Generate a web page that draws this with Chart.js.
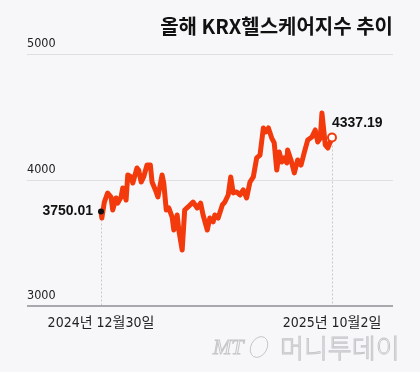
<!DOCTYPE html>
<html>
<head>
<meta charset="utf-8">
<script src="https://cdn.jsdelivr.net/npm/chart.js@4.4.0/dist/chart.umd.min.js"></script>
<style>
  html, body { margin: 0; padding: 0; background: #f7f7f9; }
  canvas { display: block; }
</style>
</head>
<body>
<canvas id="chart" width="420" height="372"></canvas>
<script>
// KRX 헬스케어 지수, x = calendar days since 2024-12-30
const days = [0, 1, 4, 8, 12, 14, 18, 20, 24, 26, 30, 32, 36, 38, 43, 45, 48, 51, 55, 59,
  61, 65, 68, 73, 75, 78, 81, 85, 87, 91, 93, 97, 100, 104, 110, 115, 119, 122, 127, 130,
  134, 136, 140, 145, 148, 152, 155, 158, 162, 166, 170, 174, 178, 182, 186, 190, 194, 197, 200, 204,
  207, 210, 213, 216, 219, 222, 223, 227, 231, 235, 239, 243, 247, 252, 256, 259, 262, 264, 268, 271,
  276];
const values = [3750.01, 3698, 3825, 3897, 3865, 3762, 3857, 3817, 3865, 3937, 3841, 4040, 4024, 3976, 4095, 4079, 3984, 4024, 4119, 4119,
  3984, 3921, 3865, 4040, 3976, 3762, 3778, 3706, 3603, 3722, 3603, 3444, 3762, 3786, 3825, 3778, 3817, 3722, 3603, 3698,
  3667, 3722, 3698, 3802, 3825, 3881, 4024, 3897, 3905, 3881, 3921, 3857, 3984, 4024, 4175, 4198, 4413, 4381, 4413, 4333,
  4294, 4079, 4222, 4143, 4175, 4135, 4238, 4159, 4056, 4159, 4119, 4222, 4317, 4341, 4397, 4302, 4333, 4532, 4278, 4254,
  4337.19];
const yMin = 3000, yMax = 5000, yStep = 1000;
const startLabel = '2024년 12월30일';
const endLabel = '2025년 10월2일';
const titleText = '올해 KRX헬스케어지수 추이';

const lineColor = '#f23a0c';
const narrow = '"Liberation Sans Narrow", "DejaVu Sans Condensed", "Noto Sans CJK KR", sans-serif';
const last = values.length - 1;

const decor = {
  id: 'decor',
  beforeDraw(chart) {
    const ctx = chart.ctx;
    ctx.save();
    ctx.fillStyle = '#f7f7f9';
    ctx.fillRect(0, 0, chart.width, chart.height);
    ctx.restore();
  },
  beforeDatasetsDraw(chart) {
    const ctx = chart.ctx;
    const pts = chart.getDatasetMeta(0).data;
    const bottom = chart.chartArea.bottom;
    ctx.save();
    ctx.strokeStyle = '#c9c9cd';
    ctx.lineWidth = 1;
    ctx.setLineDash([2, 2]);
    [pts[0], pts[last]].forEach(p => {
      const x = Math.round(p.x) + 0.5;
      ctx.beginPath();
      ctx.moveTo(x, p.y);
      ctx.lineTo(x, bottom - 1);
      ctx.stroke();
    });
    ctx.restore();
  },
  afterDatasetsDraw(chart) {
    const ctx = chart.ctx;
    const pts = chart.getDatasetMeta(0).data;
    ctx.save();
    ctx.fillStyle = '#111';
    ctx.font = 'bold 14px "Liberation Sans", Arial, sans-serif';
    ctx.textBaseline = 'middle';
    ctx.textAlign = 'right';
    ctx.fillText(values[0].toFixed(2), pts[0].x - 8, pts[0].y);
    ctx.textAlign = 'left';
    ctx.fillText(values[last].toFixed(2), pts[last].x, pts[last].y - 14);
    ctx.restore();
  },
  afterDraw(chart) {
    const ctx = chart.ctx;
    const pts = chart.getDatasetMeta(0).data;
    const area = chart.chartArea;
    ctx.save();
    // title
    ctx.fillStyle = '#111';
    ctx.font = 'bold 20px "Noto Sans CJK KR", sans-serif';
    ctx.textAlign = 'right';
    ctx.textBaseline = 'middle';
    ctx.fillText(titleText, area.right, 26);
    // x labels
    ctx.font = '14px ' + narrow;
    ctx.fillStyle = '#222';
    ctx.textAlign = 'center';
    ctx.fillText(startLabel, pts[0].x, area.bottom + 17);
    ctx.fillText(endLabel, pts[last].x, area.bottom + 17);
    // watermark
    ctx.strokeStyle = '#c6c6ca';
    ctx.lineWidth = 1;
    ctx.font = 'italic 22px "Liberation Serif", serif';
    ctx.textAlign = 'left';
    ctx.strokeText('MT', 213, 348);
    ctx.beginPath();
    ctx.ellipse(259, 347, 8, 11, 0.5, 0, Math.PI * 2);
    ctx.stroke();
    ctx.font = '300 26px "Noto Sans CJK KR", sans-serif';
    ctx.strokeText('머니투데이', 280, 348);
    ctx.restore();
  }
};

new Chart(document.getElementById('chart'), {
  type: 'line',
  data: {
    datasets: [{
      data: days.map((d, i) => ({ x: d, y: values[i] })),
      borderColor: lineColor,
      borderWidth: 5,
      borderJoinStyle: 'round',
      borderCapStyle: 'round',
      tension: 0,
      pointRadius: ctx => ctx.dataIndex === 0 ? 3 : (ctx.dataIndex === last ? 4 : 0),
      pointBackgroundColor: ctx => ctx.dataIndex === 0 ? '#111' : '#ffffff',
      pointBorderColor: ctx => ctx.dataIndex === 0 ? '#111' : lineColor,
      pointBorderWidth: ctx => ctx.dataIndex === 0 ? 0 : 2,
      clip: false
    }]
  },
  options: {
    responsive: false,
    devicePixelRatio: 1,
    animation: false,
    layout: { padding: { left: 27, right: 27, top: 54, bottom: 66 } },
    plugins: { legend: { display: false }, tooltip: { enabled: false } },
    scales: {
      x: {
        type: 'linear',
        display: false,
        min: -88.4,
        max: 348.9
      },
      y: {
        min: yMin,
        max: yMax,
        border: { display: false },
        ticks: {
          stepSize: yStep,
          mirror: true,
          padding: 0,
          labelOffset: -10,
          color: '#222',
          font: { size: 12.5, family: narrow },
          callback: v => String(v)
        },
        grid: {
          drawTicks: false,
          color: ctx => ctx.tick && ctx.tick.value === yMin ? '#a9a9ad' : '#dfdfe3',
          lineWidth: ctx => ctx.tick && ctx.tick.value === yMin ? 2 : 1
        }
      }
    }
  },
  plugins: [decor]
});
</script>
</body>
</html>
